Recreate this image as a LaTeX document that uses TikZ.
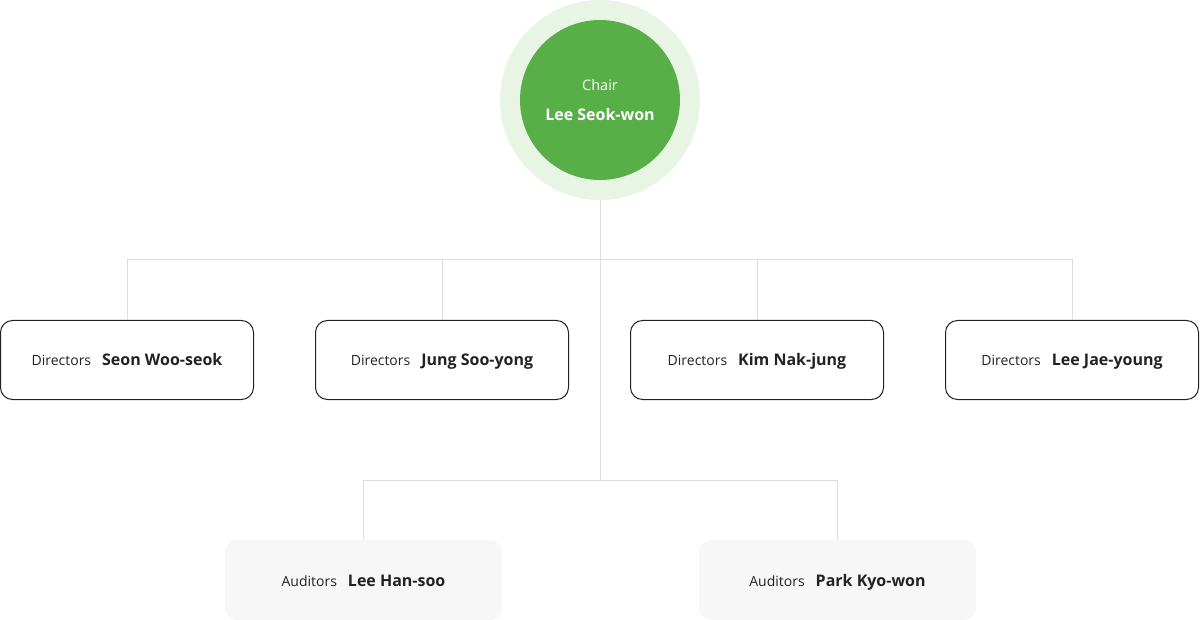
\documentclass[tikz,border=0pt]{standalone}
\usepackage{fontspec}
\setmainfont{Open Sans}
\usepackage{xcolor}
\usepackage{tikz}
\usetikzlibrary{positioning}
\definecolor{chairgreen}{RGB}{88,174,71}
\definecolor{ringgreen}{RGB}{232,245,228}
\definecolor{linegray}{RGB}{221,221,221}
\definecolor{boxborder}{RGB}{34,34,34}
\definecolor{audfill}{RGB}{247,247,247}
\definecolor{textdark}{RGB}{34,34,34}
\tikzset{
    ring/.style={circle, fill=ringgreen, minimum size=200pt, inner sep=0pt},
    chair/.style={circle, fill=chairgreen, minimum size=160pt, inner sep=0pt, text=white, align=center},
    director/.style={rectangle, rounded corners=12pt, minimum width=253pt, minimum height=79pt, draw=boxborder, line width=1pt, text=textdark, text height=13pt, text depth=1pt},
    auditor/.style={rectangle, rounded corners=12pt, minimum width=277pt, minimum height=80pt, fill=audfill, text=textdark, text height=13pt, text depth=1pt},
    link/.style={draw=linegray, line width=1pt}
}
\newcommand{\rolename}[2]{{\fontsize{14}{17}\selectfont #1}\hspace{11pt}{\fontsize{16}{20}\selectfont\bfseries #2}}

\begin{document}
\begin{tikzpicture}[x=1pt, y=-1pt]
    \useasboundingbox (0,0) rectangle (1200,620);

    % Chair
    \node[ring] (ring) at (600,100) {};
    \node[chair] (chair) at (600,100) {{\fontsize{14.5}{18}\selectfont Chair}\\[17pt]{\fontsize{16}{20}\selectfont\bfseries Lee Seok-won}};

    % Junctions
    \coordinate (dirbus) at (600,260);
    \coordinate (audbus) at (600,480);

    % Directors
    \node[director] (dir1) at (127,360) {\rolename{Directors}{Seon Woo-seok}};
    \node[director] (dir2) at (442,360) {\rolename{Directors}{Jung Soo-yong}};
    \node[director] (dir3) at (757,360) {\rolename{Directors}{Kim Nak-jung}};
    \node[director] (dir4) at (1072,360) {\rolename{Directors}{Lee Jae-young}};

    % Auditors
    \node[auditor] (aud1) at (363.5,580) {\rolename{Auditors}{Lee Han-soo}};
    \node[auditor] (aud2) at (837.5,580) {\rolename{Auditors}{Park Kyo-won}};

    % Lines
    \draw[link] (ring.south) -- (audbus);
    \draw[link] (dir1.north) |- (dirbus);
    \draw[link] (dir2.north) |- (dirbus);
    \draw[link] (dir3.north) |- (dirbus);
    \draw[link] (dir4.north) |- (dirbus);
    \draw[link] (aud1.north) |- (audbus);
    \draw[link] (aud2.north) |- (audbus);
\end{tikzpicture}
\end{document}
